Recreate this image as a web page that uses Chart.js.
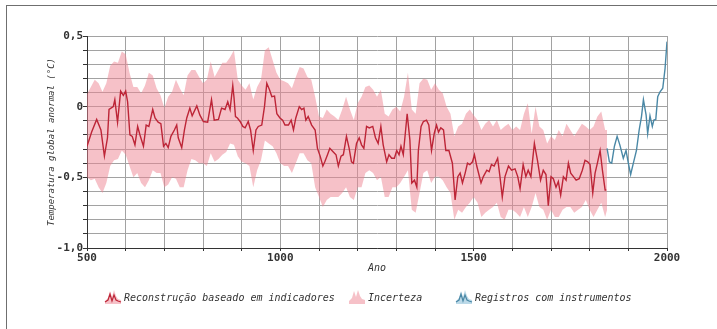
<!DOCTYPE html>
<html>
<head>
<meta charset="utf-8">
<script src="https://cdn.jsdelivr.net/npm/chart.js@4.4.0/dist/chart.umd.min.js"></script>
<style>
  html, body { margin: 0; padding: 0; background: #fff; overflow: hidden; }
  #wrap { position: relative; width: 717px; height: 329px; overflow: hidden; }
  #frame { position: absolute; left: 6px; top: 5px; width: 800px; height: 400px; border: 1px solid #6f6f6f; }
  #chart { position: absolute; left: 0; top: 0; }
  .item { position: absolute; top: 289px; height: 16px; display: flex; align-items: center;
          font: italic 10px "DejaVu Sans Mono", monospace; color: #333; white-space: nowrap; }
  .item canvas { margin-right: 2px; }
</style>
</head>
<body>
<div id="wrap">
  <div id="frame"></div>
  <canvas id="chart" width="717" height="329"></canvas>
  <div class="item" style="left:104px"><canvas id="ic0" width="18" height="16"></canvas>Reconstrução baseado em indicadores</div>
  <div class="item" style="left:348px"><canvas id="ic1" width="18" height="16"></canvas>Incerteza</div>
  <div class="item" style="left:455px"><canvas id="ic2" width="18" height="16"></canvas>Registros com instrumentos</div>
</div>
<script>
// reconstruction from proxy indicators (°C anomaly)
const recYears = [500,512,525,536,545,553,557,568,572,579,587,594,600,605,611,617,624,631,637,646,
  653,660,670,676,684,691,698,704,710,717,726,732,736,745,752,758,766,772,784,792,
  801,812,822,829,840,848,857,864,870,877,880,884,889,896,903,909,917,923,930,937,
  943,952,959,965,972,978,985,991,999,1006,1012,1021,1028,1034,1040,1049,1055,1061,1066,1072,
  1081,1090,1096,1103,1110,1115,1122,1128,1137,1144,1150,1157,1163,1171,1178,1184,1189,1197,1204,1210,
  1216,1223,1230,1239,1246,1253,1260,1266,1275,1281,1288,1295,1301,1307,1312,1318,1328,1335,1340,1347,
  1353,1357,1364,1370,1378,1384,1391,1398,1404,1409,1415,1422,1428,1436,1445,1452,1459,1465,1471,1478,
  1484,1490,1497,1502,1508,1519,1525,1534,1540,1546,1553,1562,1568,1574,1581,1590,1598,1607,1614,1620,
  1628,1635,1641,1648,1657,1665,1673,1680,1687,1693,1700,1706,1713,1719,1725,1732,1739,1745,1751,1758,
  1765,1773,1781,1788,1795,1801,1808,1814,1820,1827,1833,1840,1843];
const recValues = [-0.28,-0.18,-0.09,-0.165,-0.35,-0.22,-0.02,0,0.05,-0.11,0.11,0.08,0.11,0.035,-0.2,-0.21,-0.27,-0.14,-0.2,-0.28,
  -0.13,-0.14,-0.02,-0.08,-0.11,-0.12,-0.28,-0.26,-0.29,-0.21,-0.165,-0.13,-0.22,-0.29,-0.165,-0.08,-0.01,-0.065,0.005,-0.06,
  -0.105,-0.11,0.05,-0.095,-0.09,-0.01,-0.02,0.035,-0.02,0.15,0.07,-0.07,-0.08,-0.105,-0.14,-0.15,-0.105,-0.165,-0.31,-0.165,
  -0.14,-0.13,0,0.165,0.12,0.07,0.075,-0.05,-0.08,-0.095,-0.13,-0.13,-0.095,-0.165,-0.08,0,-0.02,-0.01,-0.095,-0.07,
  -0.13,-0.165,-0.295,-0.35,-0.42,-0.39,-0.34,-0.295,-0.32,-0.34,-0.42,-0.35,-0.34,-0.21,-0.295,-0.39,-0.40,-0.26,-0.22,-0.27,
  -0.295,-0.14,-0.15,-0.14,-0.22,-0.26,-0.14,-0.27,-0.39,-0.34,-0.365,-0.365,-0.31,-0.34,-0.28,-0.34,-0.05,-0.235,-0.54,-0.52,
  -0.57,-0.31,-0.14,-0.105,-0.095,-0.13,-0.31,-0.19,-0.13,-0.18,-0.15,-0.165,-0.31,-0.31,-0.40,-0.66,-0.495,-0.47,-0.54,-0.47,
  -0.40,-0.41,-0.39,-0.34,-0.42,-0.54,-0.495,-0.45,-0.46,-0.41,-0.42,-0.365,-0.495,-0.64,-0.495,-0.42,-0.45,-0.44,-0.495,-0.58,
  -0.41,-0.495,-0.45,-0.495,-0.26,-0.38,-0.52,-0.45,-0.48,-0.70,-0.495,-0.51,-0.57,-0.53,-0.625,-0.495,-0.52,-0.40,-0.47,-0.495,
  -0.52,-0.51,-0.45,-0.38,-0.39,-0.41,-0.61,-0.47,-0.40,-0.31,-0.45,-0.59,-0.59];

// uncertainty band, per decade
const bandYears = [500,510,520,530,540,550,560,570,580,590,600,610,620,630,640,650,660,670,680,690,
  700,710,720,730,740,750,760,770,780,790,800,810,820,830,840,850,860,870,880,890,
  900,910,920,930,940,950,960,970,980,990,1000,1010,1020,1030,1040,1050,1060,1070,1080,1090,
  1100,1110,1120,1130,1140,1150,1160,1170,1180,1190,1200,1210,1220,1230,1240,1250,1260,1270,1280,1290,
  1300,1310,1320,1330,1340,1350,1360,1370,1380,1390,1400,1410,1420,1430,1440,1450,1460,1470,1480,1490,
  1500,1510,1520,1530,1540,1550,1560,1570,1580,1590,1600,1610,1620,1630,1640,1650,1660,1670,1680,1690,
  1700,1710,1720,1730,1740,1750,1760,1770,1780,1790,1800,1810,1820,1830,1840,1845];
const bandUpper = [0.09,0.14,0.19,0.165,0.105,0.165,0.29,0.32,0.31,0.39,0.37,0.24,0.14,0.14,0.095,0.15,0.24,0.22,0.13,0.08,
  -0.01,0.07,0.105,0.19,0.13,0.08,0.22,0.26,0.26,0.21,0.165,0.19,0.32,0.21,0.26,0.31,0.31,0.35,0.40,0.19,
  0.15,0.12,0.165,0.05,0.14,0.19,0.40,0.42,0.33,0.24,0.19,0.18,0.165,0.13,0.21,0.28,0.27,0.21,0.19,0.07,
  -0.07,-0.08,-0.02,-0.05,-0.07,-0.095,-0.02,0.07,-0.02,-0.095,0.025,0.07,0.14,0.15,0.12,0.07,0.12,-0.05,-0.07,-0.02,
  0,-0.035,0.07,0.24,-0.02,-0.05,0.165,0.20,0.19,0.12,0.165,0.12,0.095,0,-0.05,-0.21,-0.14,-0.12,-0.05,-0.02,
  -0.06,-0.095,-0.165,-0.12,-0.095,-0.14,-0.095,-0.165,-0.14,-0.12,-0.165,-0.14,-0.165,-0.05,0.025,-0.19,0,-0.14,-0.165,-0.26,
  -0.21,-0.235,-0.165,-0.21,-0.12,-0.165,-0.21,-0.165,-0.12,-0.14,-0.165,-0.14,-0.07,-0.035,-0.165,-0.165];
const bandLower = [-0.50,-0.52,-0.51,-0.57,-0.61,-0.54,-0.42,-0.38,-0.37,-0.31,-0.34,-0.42,-0.50,-0.47,-0.54,-0.57,-0.52,-0.45,-0.47,-0.47,
  -0.57,-0.55,-0.50,-0.51,-0.57,-0.57,-0.45,-0.37,-0.38,-0.40,-0.40,-0.42,-0.33,-0.39,-0.37,-0.34,-0.32,-0.26,-0.27,-0.35,
  -0.39,-0.40,-0.42,-0.57,-0.45,-0.38,-0.24,-0.26,-0.28,-0.33,-0.40,-0.42,-0.42,-0.47,-0.40,-0.33,-0.33,-0.38,-0.40,-0.57,
  -0.64,-0.71,-0.66,-0.64,-0.64,-0.64,-0.61,-0.57,-0.64,-0.66,-0.57,-0.57,-0.47,-0.45,-0.47,-0.52,-0.495,-0.64,-0.64,-0.57,
  -0.57,-0.54,-0.495,-0.45,-0.73,-0.75,-0.61,-0.47,-0.45,-0.54,-0.495,-0.495,-0.52,-0.57,-0.61,-0.80,-0.73,-0.75,-0.71,-0.68,
  -0.64,-0.68,-0.78,-0.75,-0.73,-0.71,-0.68,-0.78,-0.80,-0.73,-0.73,-0.75,-0.78,-0.71,-0.78,-0.71,-0.61,-0.71,-0.73,-0.80,
  -0.73,-0.78,-0.78,-0.73,-0.71,-0.71,-0.75,-0.73,-0.71,-0.66,-0.73,-0.78,-0.73,-0.68,-0.78,-0.73];

// instrumental record
const instYears = [1845,1851,1857,1864,1871,1878,1887,1894,1900,1906,1913,1921,1928,1934,1939,1946,1950,1956,1962,1966,
  1971,1976,1982,1989,1995,2000];
const instValues = [-0.295,-0.39,-0.40,-0.28,-0.21,-0.27,-0.365,-0.31,-0.40,-0.48,-0.40,-0.31,-0.165,-0.07,0.05,-0.06,-0.19,-0.065,-0.14,-0.095,
  -0.09,0.07,0.105,0.13,0.27,0.46];

const yLabelEvery = 0.5;
const xLabelEvery = 500;

const RED = '#bd2537';
const PINK = 'rgba(238,132,146,0.5)';
const BLUE = '#4a88a6';
const MONO = '"DejaVu Sans Mono", monospace';

const pts = (xs, ys) => xs.map((x, i) => ({ x, y: ys[i] }));

function drawIcon(id, fill, stroke) {
  const c = document.getElementById(id).getContext('2d');
  const xs = [1, 4, 6, 8, 10, 12, 14, 17];
  const up = [12, 9, 2, 8, 1, 7, 10, 11];
  c.beginPath();
  c.moveTo(1, 15);
  xs.forEach((x, i) => c.lineTo(x, up[i]));
  c.lineTo(17, 15);
  c.closePath();
  c.fillStyle = fill;
  c.fill();
  if (stroke) {
    c.beginPath();
    const mid = [13, 11, 5, 12, 6, 11, 12, 13];
    xs.forEach((x, i) => i ? c.lineTo(x, mid[i]) : c.moveTo(x, mid[i]));
    c.strokeStyle = stroke;
    c.lineWidth = 1.2;
    c.stroke();
  }
}
drawIcon('ic0', PINK, RED);
drawIcon('ic1', PINK, null);
drawIcon('ic2', 'rgba(120,180,210,0.5)', BLUE);

const gridColor = '#a2a2a2';

new Chart(document.getElementById('chart'), {
  type: 'line',
  data: {
    datasets: [
      { label: 'Incerteza sup', data: pts(bandYears, bandUpper), borderWidth: 0, pointRadius: 0,
        backgroundColor: PINK, fill: '+1', tension: 0, order: 3 },
      { label: 'Incerteza inf', data: pts(bandYears, bandLower), borderWidth: 0, pointRadius: 0,
        fill: false, tension: 0, order: 3 },
      { label: 'Reconstrução baseado em indicadores', data: pts(recYears, recValues), borderColor: RED,
        borderWidth: 1.4, pointRadius: 0, fill: false, tension: 0, order: 1 },
      { label: 'Registros com instrumentos', data: pts(instYears, instValues), borderColor: BLUE,
        borderWidth: 1.4, pointRadius: 0, fill: false, tension: 0, order: 1 }
    ]
  },
  options: {
    responsive: false,
    animation: false,
    events: [],
    layout: { padding: { left: 46, right: 50, top: 36, bottom: 47 } },
    plugins: { legend: { display: false }, tooltip: { enabled: false } },
    scales: {
      x: {
        type: 'linear', min: 500, max: 2000,
        grid: { color: gridColor, tickLength: 3, tickColor: '#333' },
        border: { color: '#333', width: 1 },
        ticks: {
          stepSize: 100, autoSkip: false, maxRotation: 0, padding: 1, color: '#333',
          font: { family: MONO, weight: 'bold', size: 11 },
          callback: v => (v % xLabelEvery === 0 ? String(v) : '')
        },
        title: { display: true, text: 'Ano', color: '#333',
                 font: { family: MONO, style: 'italic', size: 10 }, padding: { top: 0, bottom: 8 } },
        afterFit: s => { s.height = 34; }
      },
      y: {
        min: -1, max: 0.5,
        grid: { color: gridColor, tickLength: 4, tickColor: '#333' },
        border: { color: '#333', width: 1 },
        ticks: {
          stepSize: 0.1, autoSkip: false, padding: 0, color: '#333',
          font: { family: MONO, weight: 'bold', size: 11 },
          callback: v => {
            const k = v / yLabelEvery;
            if (Math.abs(k - Math.round(k)) > 1e-6) return '';
            const r = Math.round(k) * yLabelEvery;
            return r === 0 ? '0' : r.toFixed(1).replace('.', ',');
          }
        },
        title: { display: true, text: 'Temperatura global anormal (°C)', color: '#333',
                 font: { family: MONO, style: 'italic', size: 9 }, padding: { top: 0, bottom: 0 } },
        afterFit: s => { s.width = 41; }
      }
    }
  }
});
</script>
</body>
</html>
